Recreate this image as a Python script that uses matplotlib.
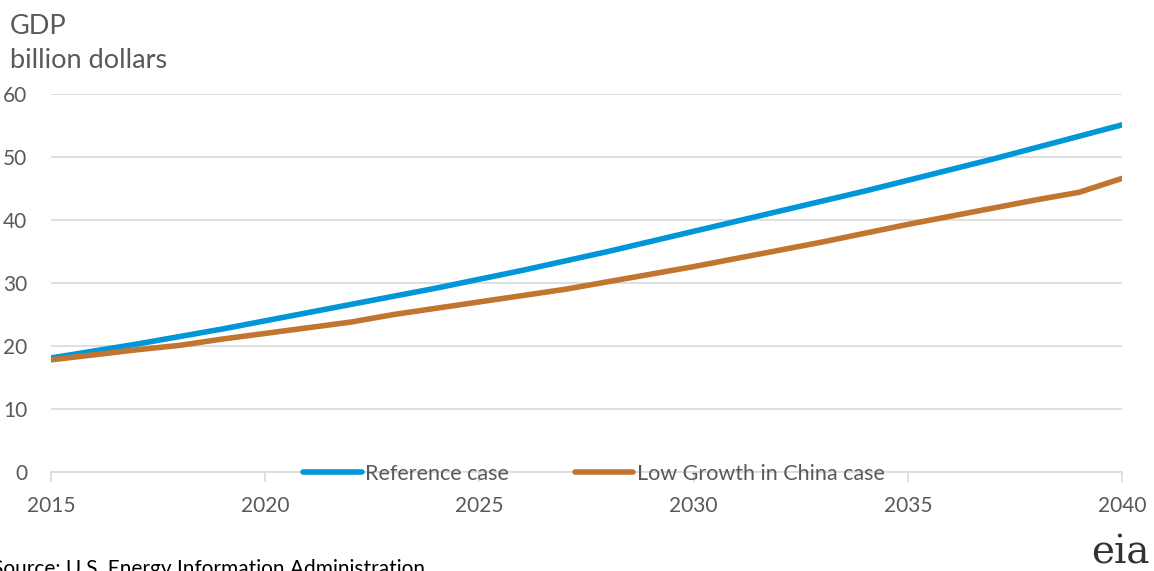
import matplotlib
matplotlib.use("Agg")
import matplotlib.pyplot as plt

# Data (billion dollars)
years = list(range(2015, 2041))
reference_case = [18.1, 19.2, 20.3, 21.5, 22.7, 24.0, 25.3, 26.6, 27.9, 29.2,
                  30.6, 32.0, 33.5, 35.0, 36.6, 38.2, 39.8, 41.4, 43.0, 44.6,
                  46.3, 48.0, 49.7, 51.5, 53.3, 55.1]
low_growth_china = [17.8, 18.6, 19.4, 20.1, 21.1, 22.0, 22.9, 23.8, 25.0, 26.0,
                    27.0, 28.0, 29.0, 30.2, 31.4, 32.6, 33.9, 35.2, 36.5, 37.9,
                    39.3, 40.6, 41.9, 43.2, 44.4, 46.6]
x_ticks = [2015, 2020, 2025, 2030, 2035, 2040]
y_ticks = [0, 10, 20, 30, 40, 50, 60]

TEXT = "#595959"
GRID = "#d9d9d9"
plt.rcParams["font.family"] = ["Lato", "DejaVu Sans"]

fig = plt.figure(figsize=(11.54, 5.71), dpi=100)
ax = fig.add_axes([51 / 1154, 1 - 472 / 571, (1122 - 51) / 1154, (472 - 94) / 571])

ax.plot(years, reference_case, color="#0096d7", lw=4, label="Reference case",
        solid_capstyle="round")
ax.plot(years, low_growth_china, color="#c0762f", lw=4, label="Low Growth in China case",
        solid_capstyle="round")

ax.set_xlim(2015, 2040)
ax.set_ylim(0, 60)
ax.set_xticks(x_ticks)
ax.set_yticks(y_ticks)
ax.grid(axis="y", color=GRID, lw=1.2)
ax.set_axisbelow(True)
for side in ["top", "right", "left"]:
    ax.spines[side].set_visible(False)
ax.spines["bottom"].set_color(GRID)
ax.spines["bottom"].set_linewidth(1.2)
ax.tick_params(axis="x", colors=GRID, length=7, width=1.2, pad=10, labelcolor=TEXT, labelsize=15)
ax.tick_params(axis="y", length=0, pad=17, labelcolor=TEXT, labelsize=15)

leg = ax.legend(loc="center", bbox_to_anchor=(0.507, -0.005), ncol=2, frameon=True,
                fontsize=15.5, handlelength=2.7, handletextpad=0.15, columnspacing=3.1,
                borderpad=0.0, facecolor="white", edgecolor="none", framealpha=0)
for t in leg.get_texts():
    t.set_color(TEXT)

fig.text(10 / 1154, 1 - 27 / 571, "GDP", fontsize=19.5, color=TEXT, va="center")
fig.text(10 / 1154, 1 - 61 / 571, "billion dollars", fontsize=19.5, color=TEXT, va="center")
fig.text(-8 / 1154, 1 - 569 / 571, "Source: U.S. Energy Information Administration",
         fontsize=15, color="black", va="center")
fig.text(1150 / 1154, 1 - 553 / 571, "eia", fontsize=28, color="#333333", ha="right",
         va="center", family="DejaVu Serif")

fig.savefig("out.png", dpi=100)
